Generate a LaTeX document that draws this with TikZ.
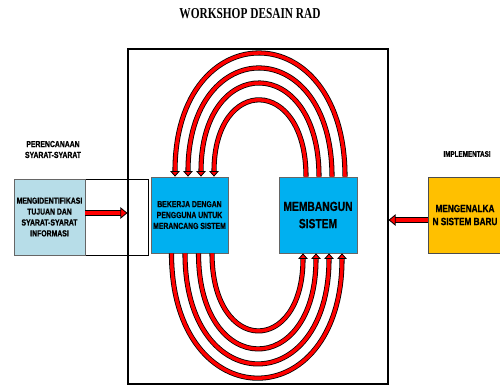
\documentclass[tikz,border=0pt]{standalone}
\usepackage{fontspec}
\usepackage{tikz}
\usetikzlibrary{arrows.meta, positioning, calc}
\newfontfamily\titlefont[FakeStretch=0.75]{Liberation Serif}
\newfontfamily\labelfont[FakeStretch=0.78, FakeBold=0.8]{Liberation Sans}
\definecolor{paleblue}{HTML}{B7DDE8}
\definecolor{skyblue}{HTML}{00B0F0}
\definecolor{gold}{HTML}{FFC000}

\begin{document}
\begin{tikzpicture}[
    stage/.style={draw=gray!80!black, minimum width=1.54cm, minimum height=1.52cm, align=center, inner xsep=0pt, font=\labelfont\bfseries\fontsize{5}{6.2}\selectfont},
    heading/.style={align=center, font=\labelfont\bfseries\fontsize{5}{6.2}\selectfont},
    loopflow/.style={draw=black, line width=0.45pt, double=red, double distance=2pt, -{Triangle[length=3.2pt, width=5.5pt, color=black, fill=red, line width=0.45pt]}},
    push/.style={loopflow, double distance=2.4pt, -{Triangle[length=4pt, width=6.5pt, color=black, fill=red, line width=0.45pt]}}
]
    \useasboundingbox (0,0) rectangle (10,7.7);

    % Title and frame
    \node[font=\titlefont\bfseries\fontsize{8.6}{10}\selectfont] (title) at (5.0,7.42) {WORKSHOP DESAIN RAD};
    \node[draw, line width=0.6pt, minimum width=5.2cm, minimum height=6.7cm] (workshop) at (5.16,3.37) {};

    % Planning
    \node[heading] (planhead) at (1.06,4.71) {PERENCANAAN\\SYARAT-SYARAT};
    \node[draw, minimum width=2.68cm, minimum height=1.52cm] (plan) at (1.62,3.36) {};
    \node[stage, fill=paleblue, minimum width=1.42cm, anchor=west] (identify) at (plan.west) {MENGIDENTIFIKASI\\TUJUAN DAN\\SYARAT-SYARAT\\INFORMASI};

    % Workshop boxes
    \node[stage, fill=skyblue] (design) at (3.79,3.40) {BEKERJA DENGAN\\PENGGUNA UNTUK\\MERANCANG SISTEM};
    \node[stage, fill=skyblue, minimum width=1.56cm, font=\labelfont\bfseries\fontsize{7.5}{9.8}\selectfont] (build) at (6.36,3.40) {MEMBANGUN\\SISTEM};

    % Implementation
    \node[heading, font=\labelfont\bfseries\fontsize{4.6}{6}\selectfont] (implhead) at (9.34,4.62) {IMPLEMENTASI};
    \node[stage, fill=gold, draw=black!70, minimum width=1.48cm, font=\labelfont\bfseries\fontsize{6}{7.4}\selectfont] (intro) at (9.30,3.40) {MENGENALKA\\N SISTEM BARU};

    % Loops
    \foreach \i/\h in {0/2.03, 1/2.48, 2/2.88, 3/3.28} {
        \draw[loopflow] ($(build.north)+(-0.24+0.26*\i,0)$) .. controls +(0,\h) and +(0,\h) .. ($(design.north)+(0.49-0.26*\i,0)$);
    }
    \foreach \i/\h in {0/2.05, 1/2.53, 2/2.93, 3/3.31} {
        \draw[loopflow] ($(design.south)+(0.45-0.27*\i,0)$) .. controls +(0,-\h) and +(0,-\h) .. ($(build.south)+(-0.30+0.26*\i,0)$);
    }

    % Entry and exit arrows
    \coordinate (into) at ([yshift=0.08cm]identify.east);
    \coordinate (back) at ([yshift=-0.1cm]intro.west);
    \draw[push] (into) -- (into -| workshop.west);
    \draw[push] (back) -- (back -| workshop.east);
\end{tikzpicture}
\end{document}
